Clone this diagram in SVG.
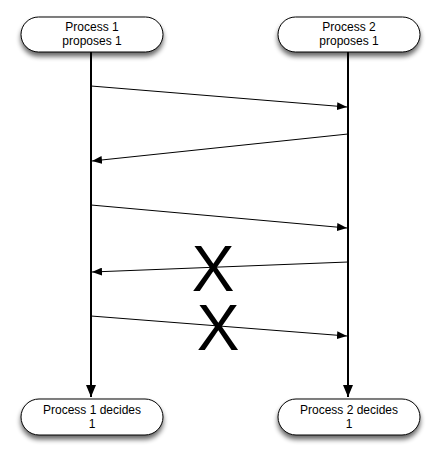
<svg xmlns="http://www.w3.org/2000/svg" width="440" height="459" viewBox="0 0 440 459">
<style>
.pill{fill:#fff;stroke:#000;stroke-width:1;filter:url(#sh)}
.t{font-family:"Liberation Sans",Arial,sans-serif;font-size:12px;text-anchor:middle;fill:#000}
.life{stroke:#000;stroke-width:2;fill:none}
.msg{stroke:#000;stroke-width:1;fill:none}
.x{font-family:"Liberation Sans",Arial,sans-serif;font-size:64px;text-anchor:middle;fill:#000}
</style>
<defs>
<filter id="sh" x="-20%" y="-30%" width="140%" height="180%">
<feGaussianBlur in="SourceAlpha" stdDeviation="2.5"/>
<feOffset dx="0" dy="4" result="b"/>
<feComponentTransfer><feFuncA type="linear" slope="0.6"/></feComponentTransfer>
<feMerge><feMergeNode/><feMergeNode in="SourceGraphic"/></feMerge>
</filter>
<marker id="ah" markerWidth="10" markerHeight="8" refX="10" refY="4" orient="auto" markerUnits="userSpaceOnUse">
<path d="M0,0 L10,4 L0,8 Z" fill="#000"/>
</marker>
<marker id="ahl" markerWidth="12" markerHeight="10" refX="12" refY="5" orient="auto" markerUnits="userSpaceOnUse">
<path d="M0,0 L12,5 L0,10 Z" fill="#000"/>
</marker>
</defs>
<g id="connectors">
<line class="life" x1="91" y1="52" x2="91" y2="397" marker-end="url(#ahl)"/>
<line class="life" x1="348" y1="52" x2="348" y2="397" marker-end="url(#ahl)"/>
<line class="msg" x1="91" y1="86" x2="347" y2="107" marker-end="url(#ah)"/>
<line class="msg" x1="348" y1="134" x2="92" y2="161" marker-end="url(#ah)"/>
<line class="msg" x1="91" y1="205" x2="347" y2="228" marker-end="url(#ah)"/>
<line class="msg" x1="348" y1="262" x2="92" y2="272" marker-end="url(#ah)"/>
<line class="msg" x1="91" y1="316" x2="347" y2="336" marker-end="url(#ah)"/>
</g>
<g id="p1propose">
<rect class="pill" x="21" y="17" width="142" height="35" rx="17.5"/>
<text class="t" x="92" y="31">Process 1</text>
<text class="t" x="92" y="45">proposes 1</text>
</g>
<g id="p2propose">
<rect class="pill" x="278" y="17" width="142" height="35" rx="17.5"/>
<text class="t" x="349" y="31">Process 2</text>
<text class="t" x="349" y="45">proposes 1</text>
</g>
<g id="p1decide">
<rect class="pill" x="21" y="399" width="142" height="36" rx="18"/>
<text class="t" x="92" y="414">Process 1 decides</text>
<text class="t" x="92" y="428">1</text>
</g>
<g id="p2decide">
<rect class="pill" x="278" y="399" width="142" height="36" rx="18"/>
<text class="t" x="349" y="414">Process 2 decides</text>
<text class="t" x="349" y="428">1</text>
</g>
<g id="losses">
<text class="x" x="213" y="291">X</text>
<text class="x" x="218" y="350">X</text>
</g>
</svg>
